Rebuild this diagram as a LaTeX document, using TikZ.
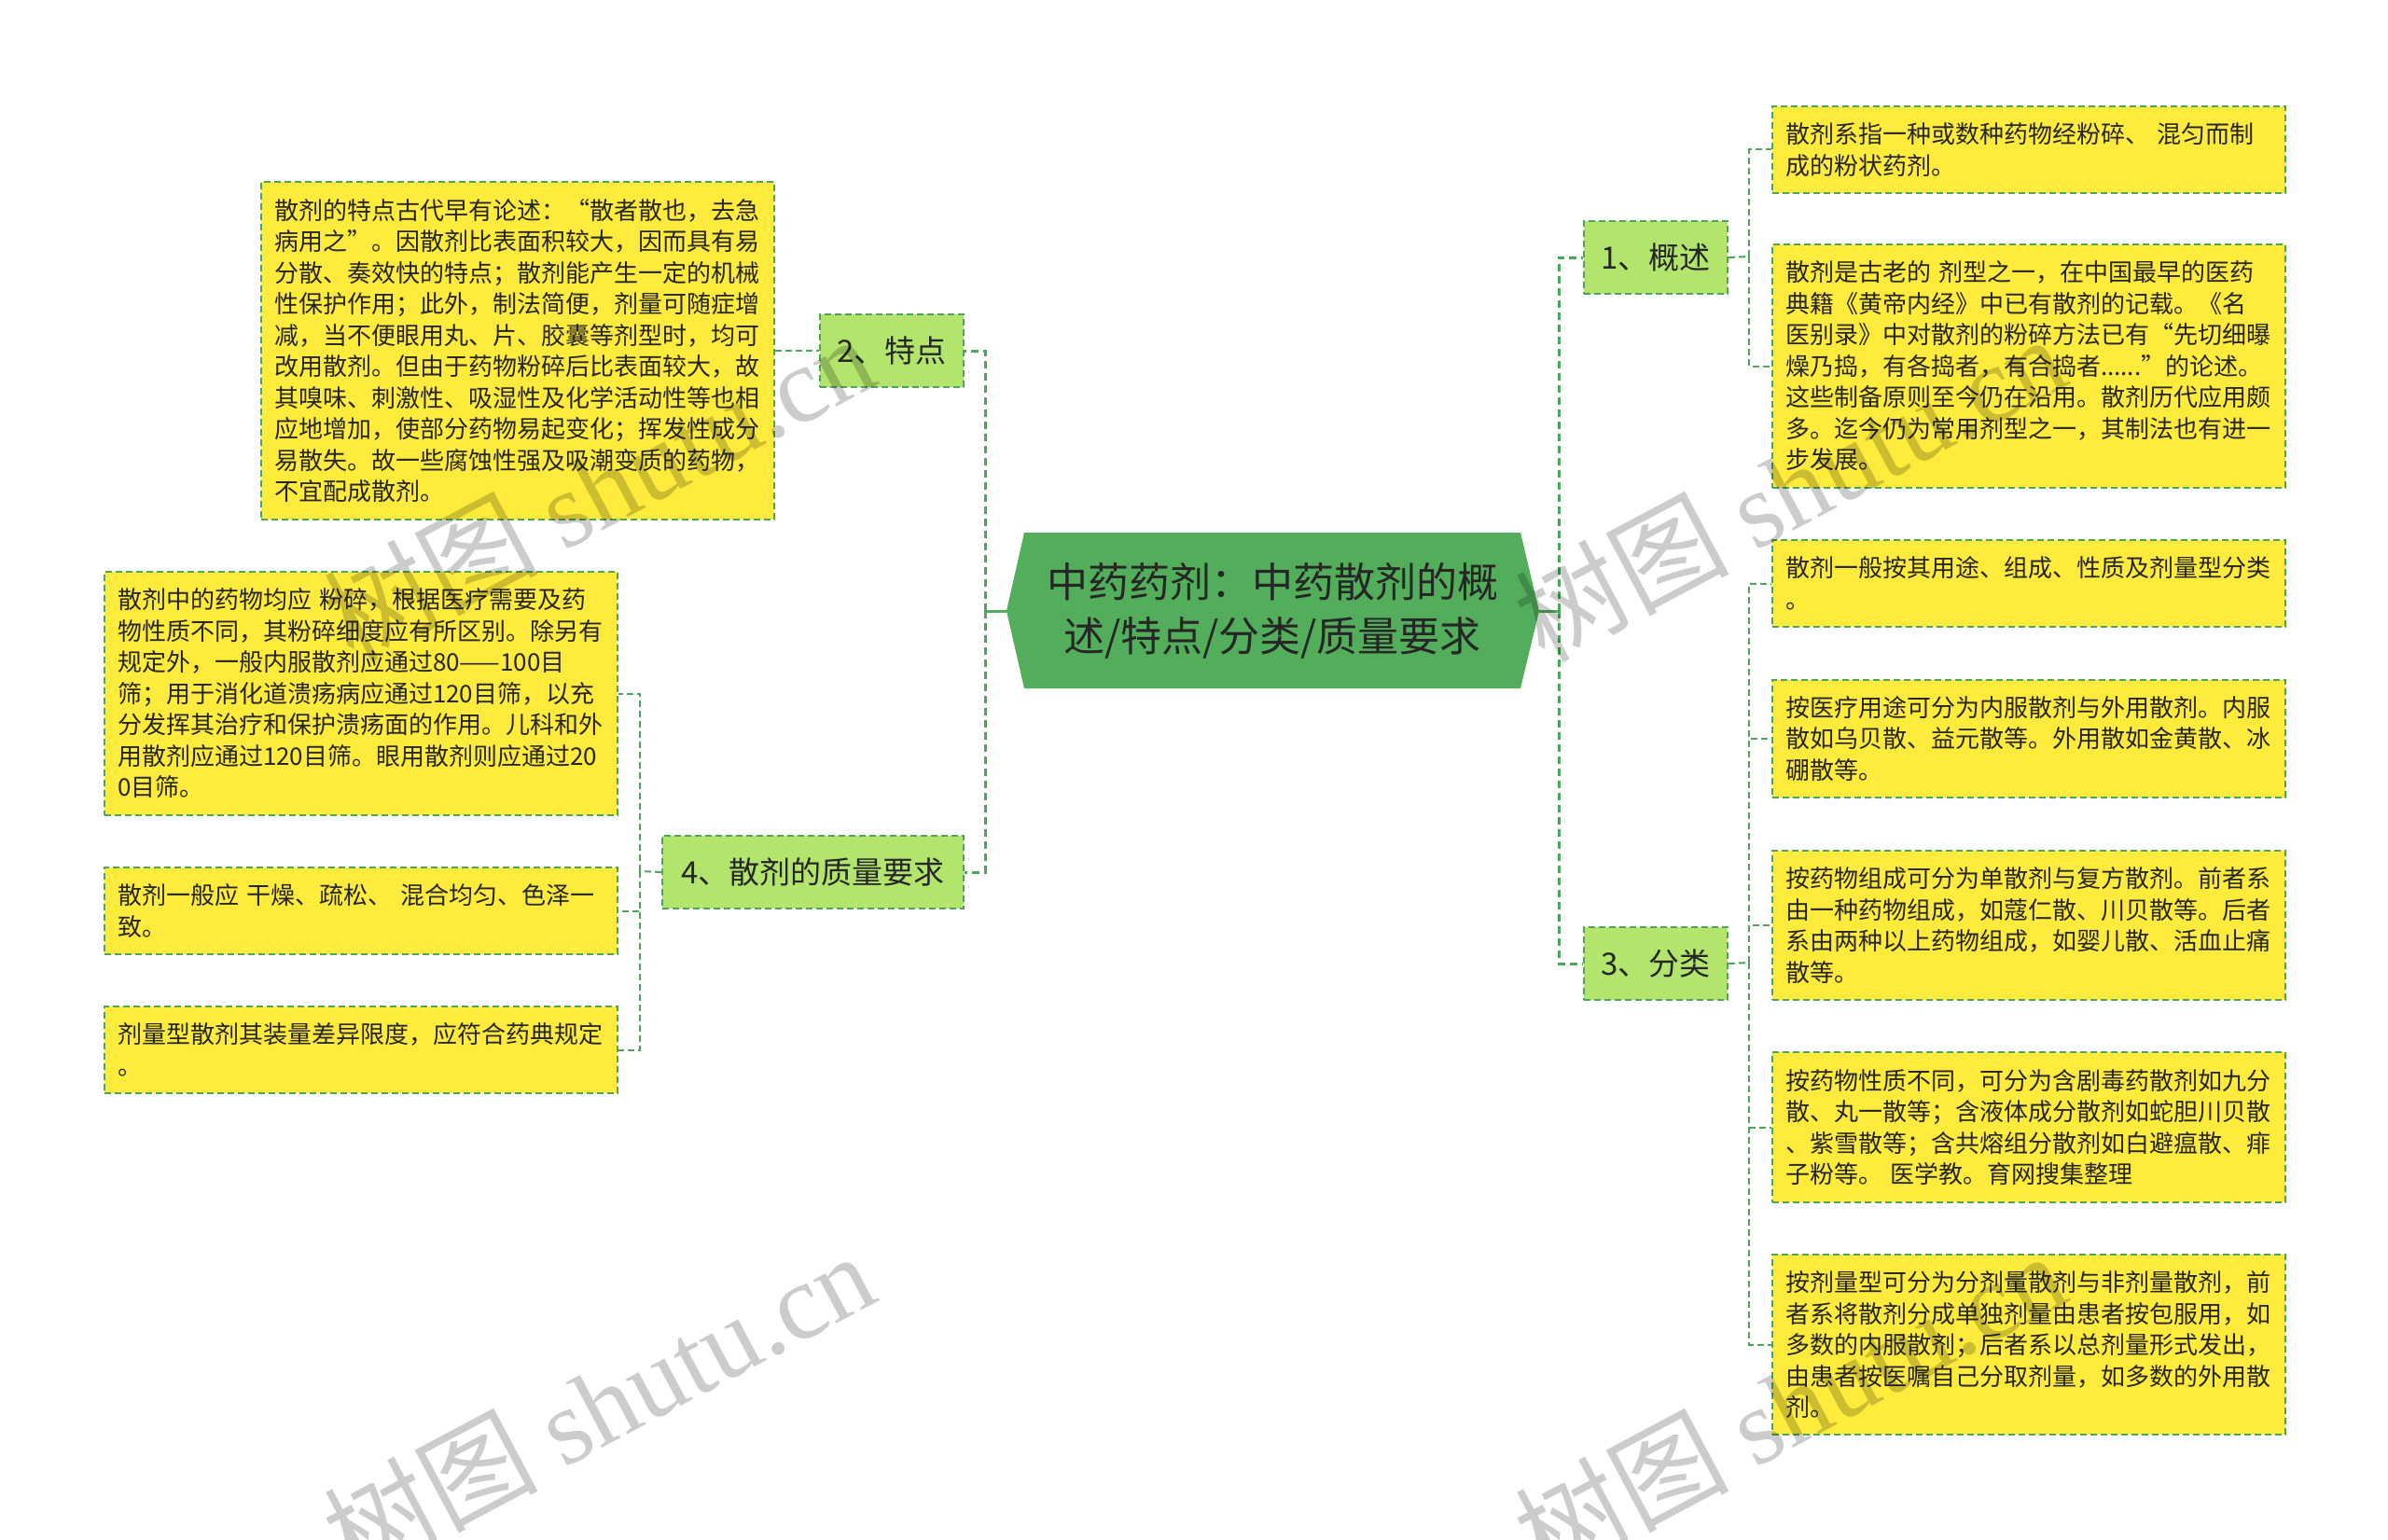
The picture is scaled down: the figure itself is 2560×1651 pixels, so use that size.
\documentclass[tikz,border=0pt]{standalone}
\usepackage{fontspec}
\setmainfont{Noto Sans CJK SC}
\newfontfamily\wmlatin{Liberation Serif}
\usetikzlibrary{calc}
\definecolor{boxyellow}{HTML}{FFEB3B}
\definecolor{branchgreen}{HTML}{B3E46C}
\definecolor{hexgreen}{HTML}{52AE5B}
\definecolor{bordergreen}{HTML}{4CA65A}
\definecolor{textdark}{HTML}{262626}
\tikzset{
  leaf/.style={draw=bordergreen, line width=2pt, dash pattern=on 7pt off 4pt,
    fill=boxyellow, text=textdark, text width=522pt, align=left,
    inner xsep=14pt, inner ysep=0pt, font=\fontsize{26}{33.5}\selectfont,
    anchor=north west},
  branch/.style={draw=bordergreen, line width=2pt, dash pattern=on 7pt off 4pt,
    fill=branchgreen, text=textdark, font=\fontsize{33}{40}\selectfont,
    inner sep=0pt, anchor=north west},
  trunk/.style={draw=bordergreen, line width=3pt, dash pattern=on 8pt off 5pt},
  trunksolid/.style={draw=hexgreen, line width=3pt},
  twig/.style={draw=bordergreen, line width=2pt, dash pattern=on 7pt off 4pt},
  wm/.style={text=black, text opacity=0.2, inner sep=0pt, anchor=base west,
    rotate=28, font=\fontsize{115}{115}\selectfont}
}
\begin{document}
\begin{tikzpicture}[x=1pt,y=-1pt]
\useasboundingbox[fill=white] (0,0) rectangle (2560,1651);

% central hexagon
\fill[hexgreen] (1079,655) -- (1098,571) -- (1630,571) -- (1650,655) -- (1630,738) -- (1098,738) -- cycle;
\node[text=textdark, align=center, font=\fontsize{44}{58}\selectfont, inner sep=0pt,
  minimum width=532pt, minimum height=167pt] (center) at (1364,655)
  {中药药剂：中药散剂的概\\述/特点/分类/质量要求};
\coordinate (hexW) at (1079,655);
\coordinate (hexE) at (1650,655);
\coordinate (LT) at (1056,655);
\coordinate (RT) at (1671,655);

% left branches
\node[branch, minimum width=154pt, minimum height=78pt] (tedian) at (878,336) {2、特点};
\node[leaf, minimum height=362pt] (tedianbox) at (279,194) {散剂的特点古代早有论述：“散者散也，去急\\病用之”。因散剂比表面积较大，因而具有易\\分散、奏效快的特点；散剂能产生一定的机械\\性保护作用；此外，制法简便，剂量可随症增\\减，当不便眼用丸、片、胶囊等剂型时，均可\\改用散剂。但由于药物粉碎后比表面较大，故\\其嗅味、刺激性、吸湿性及化学活动性等也相\\应地增加，使部分药物易起变化；挥发性成分\\易散失。故一些腐蚀性强及吸潮变质的药物，\\不宜配成散剂。};

\node[branch, minimum width=323pt, minimum height=78pt] (quality) at (709,895) {4、散剂的质量要求};
\node[leaf, minimum height=261pt] (qa) at (111,612) {散剂中的药物均应 粉碎，根据医疗需要及药\\物性质不同，其粉碎细度应有所区别。除另有\\规定外，一般内服散剂应通过80——100目\\筛；用于消化道溃疡病应通过120目筛，以充\\分发挥其治疗和保护溃疡面的作用。儿科和外\\用散剂应通过120目筛。眼用散剂则应通过20\\0目筛。};
\node[leaf, minimum height=93pt] (qb) at (111,929) {散剂一般应 干燥、疏松、 混合均匀、色泽一\\致。};
\node[leaf, minimum height=93pt] (qc) at (111,1078) {剂量型散剂其装量差异限度，应符合药典规定\\。};
\coordinate (LQ) at (686,934);

% right branches
\node[branch, minimum width=154pt, minimum height=78pt] (gaishu) at (1697,236) {1、概述};
\node[leaf, minimum height=93pt] (ra) at (1899,113) {散剂系指一种或数种药物经粉碎、 混匀而制\\成的粉状药剂。};
\node[leaf, minimum height=261pt] (rb) at (1899,261) {散剂是古老的 剂型之一，在中国最早的医药\\典籍《黄帝内经》中已有散剂的记载。《名\\医别录》中对散剂的粉碎方法已有“先切细曝\\燥乃捣，有各捣者，有合捣者......”的论述。\\这些制备原则至今仍在沿用。散剂历代应用颇\\多。迄今仍为常用剂型之一，其制法也有进一\\步发展。};
\coordinate (RG) at (1875,275);

\node[branch, minimum width=154pt, minimum height=78pt] (fenlei) at (1697,993) {3、分类};
\node[leaf, minimum height=93pt] (rc) at (1899,578) {散剂一般按其用途、组成、性质及剂量型分类\\。};
\node[leaf, minimum height=126pt] (rd) at (1899,728) {按医疗用途可分为内服散剂与外用散剂。内服\\散如乌贝散、益元散等。外用散如金黄散、冰\\硼散等。};
\node[leaf, minimum height=160pt] (re) at (1899,911) {按药物组成可分为单散剂与复方散剂。前者系\\由一种药物组成，如蔻仁散、川贝散等。后者\\系由两种以上药物组成，如婴儿散、活血止痛\\散等。};
\node[leaf, minimum height=161pt] (rf) at (1899,1127) {按药物性质不同，可分为含剧毒药散剂如九分\\散、丸一散等；含液体成分散剂如蛇胆川贝散\\、紫雪散等；含共熔组分散剂如白避瘟散、痱\\子粉等。 医学教。育网搜集整理};
\node[leaf, minimum height=193pt] (rg) at (1899,1344) {按剂量型可分为分剂量散剂与非剂量散剂，前\\者系将散剂分成单独剂量由患者按包服用，如\\多数的内服散剂；后者系以总剂量形式发出，\\由患者按医嘱自己分取剂量，如多数的外用散\\剂。};
\coordinate (RF) at (1875,1032);

% connectors
\draw[trunksolid] (hexW) -- (LT);
\draw[trunksolid] (hexE) -- (RT);
\draw[trunk] (LT) |- (tedian.east);
\draw[trunk] (LT) |- (quality.east);
\draw[trunk] (RT) |- (gaishu.west);
\draw[trunk] (RT) |- (fenlei.west);
\draw[twig] (tedianbox.east) -- (tedian.west);
\draw[twig] (quality.west) -- (LQ);
\draw[twig] (LQ) |- (qa.east);
\draw[twig] (LQ) |- (qb.east);
\draw[twig] (LQ) |- (qc.east);
\draw[twig] (gaishu.east) -- (RG);
\draw[twig] (RG) |- (ra.west);
\draw[twig] (RG) |- (rb.west);
\draw[twig] (fenlei.east) -- (RF);
\draw[twig] (RF) |- (rc.west);
\draw[twig] (RF) |- (rd.west);
\draw[twig] (RF) |- (re.west);
\draw[twig] (RF) |- (rf.west);
\draw[twig] (RF) |- (rg.west);

% watermarks
\node[wm] (wm1) at (378,712) {树图 {\wmlatin shutu.cn}};
\node[wm] (wm2) at (378,1695) {树图 {\wmlatin shutu.cn}};
\node[wm] (wm3) at (1655,712) {树图 {\wmlatin shutu.cn}};
\node[wm] (wm4) at (1655,1695) {树图 {\wmlatin shutu.cn}};
\end{tikzpicture}
\end{document}
